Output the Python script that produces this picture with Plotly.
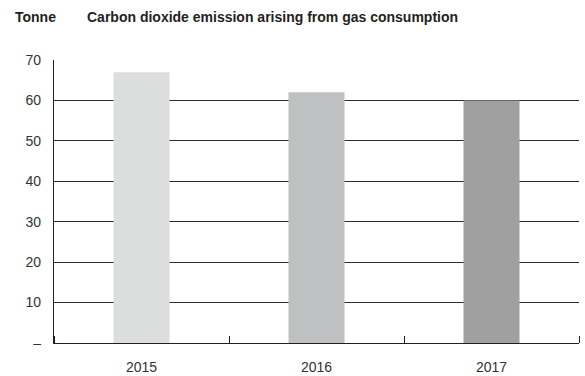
import plotly.graph_objects as go

years = ["2015", "2016", "2017"]
emissions = [67, 62, 60]
bar_colors = ["#dcdddd", "#bfc0c1", "#a0a0a0"]
y_ticks = [0, 10, 20, 30, 40, 50, 60, 70]
y_tick_text = ["–", "10", "20", "30", "40", "50", "60", "70"]

x_pos = list(range(len(years)))

fig = go.Figure(
    go.Bar(
        x=x_pos,
        y=emissions,
        marker=dict(color=bar_colors, line=dict(width=0)),
        width=0.32,
        hoverinfo="skip",
    )
)

fig.update_layout(
    width=585,
    height=376,
    margin=dict(l=54, r=6, t=60, b=33),
    paper_bgcolor="white",
    plot_bgcolor="white",
    showlegend=False,
    font=dict(family="Liberation Sans, Arial, sans-serif", size=14, color="#333333"),
    xaxis=dict(
        range=[-0.5, 2.5],
        tickvals=x_pos,
        ticktext=years,
        ticks="",
        ticklabelstandoff=11,
        automargin=False,
        showgrid=False,
        zeroline=False,
        showline=True,
        linecolor="#231f20",
        linewidth=1.4,
        minor=dict(tick0=1.5, dtick=1, ticks="inside", ticklen=7, tickwidth=1, tickcolor="#231f20"),
        fixedrange=True,
    ),
    yaxis=dict(
        range=[0, 70],
        tickvals=y_ticks,
        ticktext=y_tick_text,
        ticks="",
        ticklabelstandoff=9,
        automargin=False,
        showgrid=True,
        gridcolor="#2d2a2b",
        gridwidth=1.2,
        zeroline=False,
        showline=True,
        linecolor="#231f20",
        linewidth=1.2,
        fixedrange=True,
    ),
    annotations=[
        dict(
            text="<b>Tonne</b>", xref="paper", yref="paper",
            x=-41 / 525, y=(343 - 16.5) / 283, xanchor="left", yanchor="middle",
            showarrow=False, font=dict(size=14, color="#231f20"),
        ),
        dict(
            text="<b>Carbon dioxide emission arising from gas consumption</b>",
            xref="paper", yref="paper",
            x=31 / 525, y=(343 - 16.5) / 283, xanchor="left", yanchor="middle",
            showarrow=False, font=dict(size=14, color="#231f20"),
        ),
    ],
)

fig.write_html("out.html")
